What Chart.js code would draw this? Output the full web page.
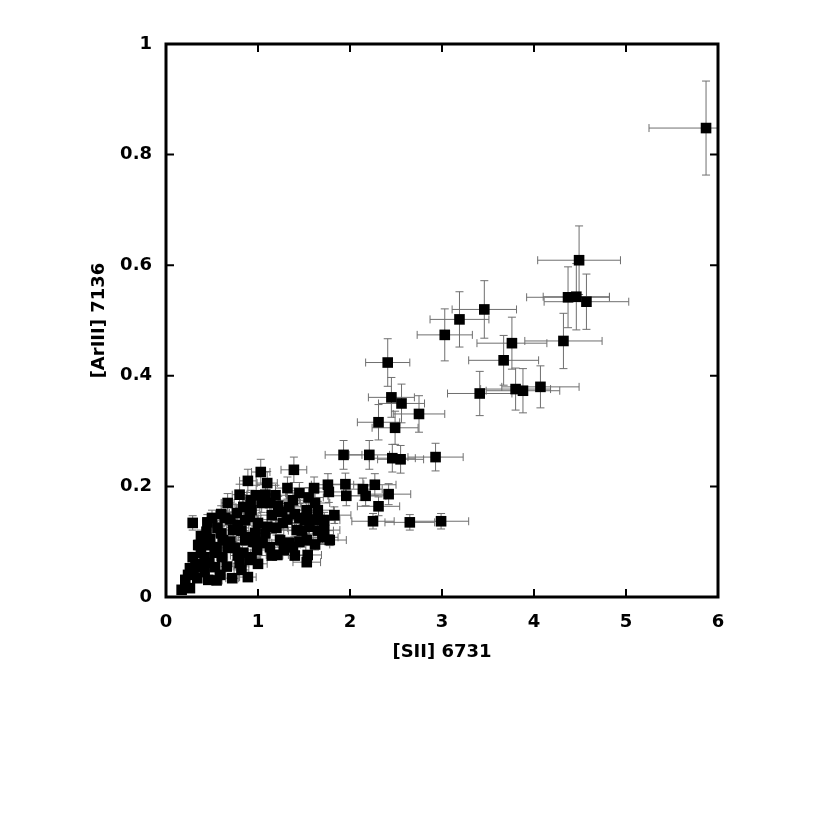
<!DOCTYPE html>
<html>
<head>
<meta charset="utf-8">
<script src="https://cdn.jsdelivr.net/npm/chart.js@4/dist/chart.umd.min.js"></script>
<style>
body { margin: 0; background: #fff; }
</style>
</head>
<body>
<canvas id="scatter" width="830" height="830"></canvas>
<script>
// [SII] 6731 vs [ArIII] 7136 line fluxes, with errors
var xs = [
  5.87, 4.49, 4.37, 4.46, 4.57, 4.32, 3.76, 3.67, 3.46, 3.19, 3.03, 3.41, 3.80, 3.88, 4.07,
  2.41, 2.45, 2.56, 2.75, 2.31, 2.49, 1.93, 2.21, 2.46, 2.55, 2.93, 2.25, 2.65, 2.99, 2.31,
  2.42, 2.27, 2.14, 2.17, 1.95, 1.96,
  1.03, 0.89, 1.39, 1.10, 1.32, 1.61, 1.76, 1.77, 1.45, 0.84, 1.13, 1.34, 1.53, 1.67, 0.91,
  1.10, 1.27, 1.42, 1.56, 1.70, 1.78, 0.88, 1.05, 1.24, 1.38, 1.53, 0.84, 0.99, 1.13, 1.21,
  1.34, 1.54, 1.53, 0.91, 0.80, 0.29, 0.67, 0.44, 0.56, 0.35, 0.46, 0.29, 0.42, 0.26, 0.39,
  0.21, 0.34, 0.17, 0.26, 0.46, 0.59, 0.72, 0.82, 0.89, 0.61, 0.75, 0.86, 0.62, 0.73, 0.86,
  0.77, 0.93, 1.00, 0.97, 0.53, 0.93, 1.04, 0.50, 1.72, 1.72, 1.19, 1.26, 1.45, 1.62, 0.98,
  1.15, 0.78, 0.64, 0.67, 0.53, 1.51, 1.65, 1.83,
  0.60, 0.70, 0.55, 0.48, 0.38, 0.32, 0.47, 0.66, 0.78, 0.70, 0.82, 0.95, 1.08, 1.20, 1.32,
  1.40, 1.48, 1.60, 1.65, 1.45, 1.28, 1.15, 1.00, 1.40, 1.62, 1.22, 1.38, 1.55, 1.08, 0.92,
  0.80, 0.60, 0.45, 0.38, 0.24, 0.30, 0.42, 0.55
];
var ys = [
  0.848, 0.609, 0.542, 0.543, 0.534, 0.463, 0.459, 0.428, 0.520, 0.502, 0.474, 0.368, 0.376, 0.373, 0.380,
  0.424, 0.361, 0.350, 0.331, 0.316, 0.306, 0.257, 0.257, 0.251, 0.249, 0.253, 0.137, 0.135, 0.137, 0.164,
  0.186, 0.203, 0.195, 0.183, 0.204, 0.183,
  0.226, 0.210, 0.230, 0.206, 0.197, 0.197, 0.203, 0.190, 0.188, 0.163, 0.170, 0.163, 0.157, 0.139, 0.145,
  0.127, 0.134, 0.121, 0.127, 0.108, 0.103, 0.108, 0.098, 0.103, 0.090, 0.103, 0.080, 0.085, 0.090, 0.076,
  0.098, 0.076, 0.063, 0.067, 0.061, 0.134, 0.170, 0.118, 0.125, 0.094, 0.094, 0.072, 0.072, 0.052, 0.054,
  0.031, 0.034, 0.013, 0.016, 0.031, 0.040, 0.034, 0.049, 0.036, 0.072, 0.089, 0.103, 0.103, 0.121, 0.139,
  0.152, 0.157, 0.134, 0.116, 0.054, 0.072, 0.170, 0.143, 0.139, 0.121, 0.184, 0.154, 0.143, 0.170, 0.184,
  0.148, 0.130, 0.143, 0.089, 0.080, 0.139, 0.157, 0.148,
  0.115, 0.100, 0.090, 0.105, 0.080, 0.060, 0.062, 0.055, 0.075, 0.140, 0.120, 0.100, 0.115, 0.125, 0.140,
  0.150, 0.120, 0.140, 0.120, 0.100, 0.085, 0.075, 0.060, 0.075, 0.095, 0.165, 0.175, 0.180, 0.185, 0.175,
  0.185, 0.150, 0.135, 0.110, 0.040, 0.045, 0.045, 0.030
];
var xErr = [
  0.62, 0.45, 0.45, 0.36, 0.46, 0.42, 0.38, 0.38, 0.35, 0.32, 0.30, 0.35, 0.38, 0.40, 0.42,
  0.24, 0.25, 0.25, 0.28, 0.23, 0.25, 0.20, 0.22, 0.25, 0.25, 0.30, 0.23, 0.27, 0.30, 0.23,
  0.24, 0.23, 0.21, 0.22, 0.20, 0.20,
  0.10, 0.09, 0.14, 0.11, 0.13, 0.16, 0.18, 0.18, 0.15, 0.08, 0.11, 0.13, 0.15, 0.17, 0.09,
  0.11, 0.13, 0.14, 0.16, 0.17, 0.18, 0.09, 0.10, 0.12, 0.14, 0.15, 0.08, 0.10, 0.11, 0.12,
  0.13, 0.15, 0.15, 0.09, 0.08, 0.03, 0.07, 0.04, 0.06, 0.04, 0.05, 0.03, 0.04, 0.03, 0.04,
  0.02, 0.03, 0.02, 0.03, 0.05, 0.06, 0.07, 0.08, 0.09, 0.06, 0.08, 0.09, 0.06, 0.07, 0.09,
  0.08, 0.09, 0.10, 0.10, 0.05, 0.09, 0.10, 0.05, 0.17, 0.17, 0.12, 0.13, 0.15, 0.16, 0.10,
  0.12, 0.08, 0.06, 0.07, 0.05, 0.15, 0.17, 0.18,
  0.06, 0.07, 0.06, 0.05, 0.04, 0.03, 0.05, 0.07, 0.08, 0.07, 0.08, 0.10, 0.11, 0.12, 0.13,
  0.14, 0.15, 0.16, 0.17, 0.15, 0.13, 0.12, 0.10, 0.14, 0.16, 0.12, 0.14, 0.16, 0.11, 0.09,
  0.08, 0.06, 0.05, 0.04, 0.02, 0.03, 0.04, 0.06
];
var yErr = [
  0.085, 0.062, 0.055, 0.060, 0.050, 0.050, 0.047, 0.045, 0.052, 0.050, 0.047, 0.040, 0.038, 0.040, 0.038,
  0.043, 0.036, 0.035, 0.033, 0.032, 0.030, 0.026, 0.026, 0.025, 0.025, 0.025, 0.014, 0.014, 0.014, 0.017,
  0.019, 0.020, 0.020, 0.018, 0.020, 0.018,
  0.023, 0.021, 0.023, 0.021, 0.020, 0.020, 0.020, 0.019, 0.019, 0.016, 0.017, 0.016, 0.016, 0.014, 0.015,
  0.013, 0.013, 0.012, 0.013, 0.011, 0.010, 0.011, 0.010, 0.010, 0.009, 0.010, 0.008, 0.009, 0.009, 0.008,
  0.010, 0.008, 0.006, 0.007, 0.006, 0.013, 0.017, 0.012, 0.013, 0.009, 0.009, 0.007, 0.007, 0.005, 0.005,
  0.003, 0.003, 0.002, 0.002, 0.003, 0.004, 0.003, 0.005, 0.004, 0.007, 0.009, 0.010, 0.010, 0.012, 0.014,
  0.015, 0.016, 0.013, 0.012, 0.005, 0.007, 0.017, 0.014, 0.014, 0.012, 0.018, 0.015, 0.014, 0.017, 0.018,
  0.015, 0.013, 0.014, 0.009, 0.008, 0.014, 0.016, 0.015,
  0.012, 0.010, 0.009, 0.011, 0.008, 0.006, 0.006, 0.006, 0.008, 0.014, 0.012, 0.010, 0.012, 0.013, 0.014,
  0.015, 0.012, 0.014, 0.012, 0.010, 0.009, 0.008, 0.006, 0.008, 0.010, 0.017, 0.018, 0.018, 0.019, 0.018,
  0.019, 0.015, 0.014, 0.011, 0.004, 0.005, 0.005, 0.003
];
var xTicks = [0, 1, 2, 3, 4, 5, 6];
var yTicks = [0, 0.2, 0.4, 0.6, 0.8, 1];

var font = { family: 'DejaVu Sans, sans-serif', size: 18, weight: 'bold' };

// error bars under the points
const errorBars = {
  id: 'errorBars',
  beforeDatasetsDraw(chart) {
    const { ctx, chartArea: a, scales: { x, y } } = chart;
    ctx.save();
    ctx.beginPath();
    ctx.rect(a.left, a.top, a.right - a.left, a.bottom - a.top);
    ctx.clip();
    ctx.strokeStyle = '#6f6f6f';
    ctx.lineWidth = 1;
    for (let i = 0; i < xs.length; i++) {
      const px = x.getPixelForValue(xs[i]);
      const py = y.getPixelForValue(ys[i]);
      const x0 = x.getPixelForValue(xs[i] - xErr[i]);
      const x1 = x.getPixelForValue(xs[i] + xErr[i]);
      const y0 = y.getPixelForValue(ys[i] - yErr[i]);
      const y1 = y.getPixelForValue(ys[i] + yErr[i]);
      ctx.beginPath();
      ctx.moveTo(x0, py); ctx.lineTo(x1, py);
      ctx.moveTo(x0, py - 4); ctx.lineTo(x0, py + 4);
      ctx.moveTo(x1, py - 4); ctx.lineTo(x1, py + 4);
      ctx.moveTo(px, y0); ctx.lineTo(px, y1);
      ctx.moveTo(px - 4, y0); ctx.lineTo(px + 4, y0);
      ctx.moveTo(px - 4, y1); ctx.lineTo(px + 4, y1);
      ctx.stroke();
    }
    ctx.restore();
  }
};

// thick frame with inward ticks on all sides
const frame = {
  id: 'frame',
  afterDraw(chart) {
    const { ctx, chartArea: a, scales: { x, y } } = chart;
    ctx.save();
    ctx.strokeStyle = '#000';
    ctx.lineWidth = 2;
    ctx.beginPath();
    xTicks.forEach(v => {
      const p = x.getPixelForValue(v);
      ctx.moveTo(p, a.bottom); ctx.lineTo(p, a.bottom - 8);
      ctx.moveTo(p, a.top); ctx.lineTo(p, a.top + 8);
    });
    yTicks.forEach(v => {
      const p = y.getPixelForValue(v);
      ctx.moveTo(a.left, p); ctx.lineTo(a.left + 8, p);
      ctx.moveTo(a.right, p); ctx.lineTo(a.right - 8, p);
    });
    ctx.stroke();
    ctx.lineWidth = 3;
    ctx.strokeRect(a.left, a.top, a.right - a.left, a.bottom - a.top);
    ctx.restore();
  }
};

new Chart(document.getElementById('scatter'), {
  type: 'scatter',
  data: {
    datasets: [{
      label: '[ArIII] 7136',
      data: xs.map((v, i) => ({ x: v, y: ys[i] })),
      pointStyle: 'rect',
      pointRadius: 7.5,
      pointHoverRadius: 7.5,
      backgroundColor: '#000',
      borderColor: '#000',
      borderWidth: 0
    }]
  },
  options: {
    responsive: false,
    animation: false,
    layout: { padding: { left: 0, top: 44, right: 112, bottom: 163 } },
    plugins: { legend: { display: false }, tooltip: { enabled: false } },
    scales: {
      x: {
        type: 'linear', min: 0, max: 6,
        afterBuildTicks: s => { s.ticks = xTicks.map(v => ({ value: v })); },
        afterFit: s => { s.height = 70; },
        grid: { display: false },
        border: { display: false },
        ticks: { color: '#000', font: font, padding: 7, maxRotation: 0 },
        title: { display: true, text: '[SII] 6731', color: '#000', font: font, padding: { top: 1 } }
      },
      y: {
        type: 'linear', min: 0, max: 1,
        afterBuildTicks: s => { s.ticks = yTicks.map(v => ({ value: v })); },
        afterFit: s => { s.width = 166; },
        grid: { display: false },
        border: { display: false },
        ticks: { color: '#000', font: font, padding: 6, callback: v => String(+v.toFixed(1)) },
        title: { display: true, text: '[ArIII] 7136', color: '#000', font: font, padding: { top: 89 } }
      }
    }
  },
  plugins: [errorBars, frame]
});
</script>
</body>
</html>
